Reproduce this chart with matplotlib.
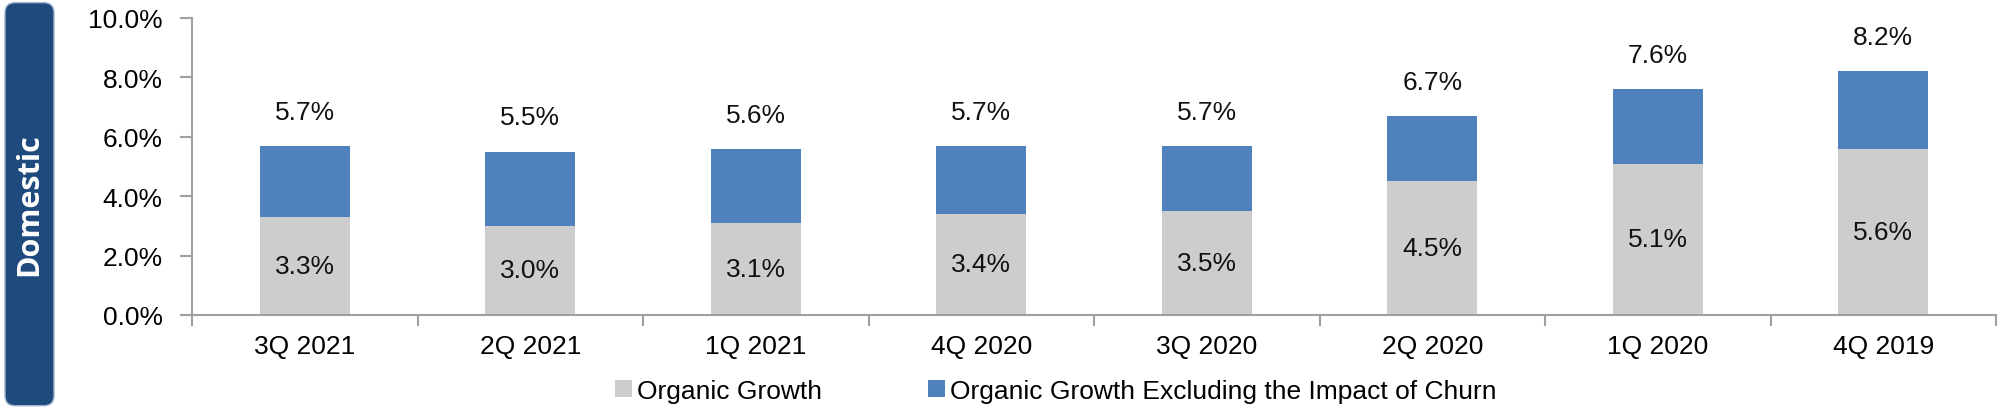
import matplotlib
matplotlib.use("Agg")
import matplotlib.pyplot as plt
from matplotlib.patches import FancyBboxPatch, Patch
import numpy as np

categories = ["3Q 2021", "2Q 2021", "1Q 2021", "4Q 2020", "3Q 2020", "2Q 2020", "1Q 2020", "4Q 2019"]
organic = [3.3, 3.0, 3.1, 3.4, 3.5, 4.5, 5.1, 5.6]
total_ex_churn = [5.7, 5.5, 5.6, 5.7, 5.7, 6.7, 7.6, 8.2]
series_names = ["Organic Growth", "Organic Growth Excluding the Impact of Churn"]
yticks = [0, 2, 4, 6, 8, 10]

plt.rcParams['font.family'] = ['Liberation Sans', 'DejaVu Sans']

GRAY = "#CDCDCD"
BLUE = "#4F81BD"
AX = "#A0A0A0"
FS = 19

fig = plt.figure(figsize=(20, 4.1), dpi=100)
ax = fig.add_axes([0.096, 0.2293, 0.902, 0.7244])

x = np.arange(len(categories))
extra = [t - o for t, o in zip(total_ex_churn, organic)]
ax.bar(x, organic, width=0.4, color=GRAY, zorder=2)
ax.bar(x, extra, bottom=organic, width=0.4, color=BLUE, zorder=2)

for xi, o, t in zip(x, organic, total_ex_churn):
    ax.text(xi, o / 2, f"{o:.1f}%", ha="center", va="center", fontsize=FS, color="#111111")
    ax.text(xi, t + 1.15, f"{t:.1f}%", ha="center", va="center", fontsize=FS, color="#111111")

ax.set_xlim(-0.5, len(categories) - 0.5)
ax.set_ylim(0, 10)
ax.set_yticks(yticks)
ax.set_yticklabels([f"{v:.1f}%" for v in yticks], fontsize=FS)
ax.set_xticks(np.arange(len(categories) + 1) - 0.5)
ax.set_xticklabels([])
ax.set_xticks(x, minor=True)
ax.set_xticklabels(categories, minor=True, fontsize=FS)
ax.tick_params(axis="x", which="major", length=8, width=1.5, color=AX, direction="out")
ax.tick_params(axis="x", which="minor", length=0, pad=14)
ax.tick_params(axis="y", length=9, width=1.5, color=AX, pad=12)
for s in ["top", "right"]:
    ax.spines[s].set_visible(False)
for s in ["left", "bottom"]:
    ax.spines[s].set_color(AX)
    ax.spines[s].set_linewidth(1.5)

handles = [Patch(facecolor=GRAY, label=series_names[0]), Patch(facecolor=BLUE, label=series_names[1])]
fig.legend(handles=handles, loc="center", bbox_to_anchor=(0.528, 0.044), ncol=2, frameon=False,
           fontsize=FS, handlelength=0.65, handleheight=0.65, handletextpad=0.2, columnspacing=4.0)

# Left side label panel
panel = FancyBboxPatch((0.0025, 0.008), 0.0245, 0.983, boxstyle="round,pad=0,rounding_size=0.005",
                       transform=fig.transFigure, facecolor="#1F4A7E", edgecolor="#9DB3CF",
                       linewidth=1.0, mutation_aspect=4.878)
fig.patches.append(panel)
fig.text(0.0148, 0.5, "Domestic", rotation=90, ha="center", va="center", color="white",
         fontsize=22, fontweight="bold", family=["Open Sans", "DejaVu Sans"])

fig.savefig("out.png", dpi=100)
